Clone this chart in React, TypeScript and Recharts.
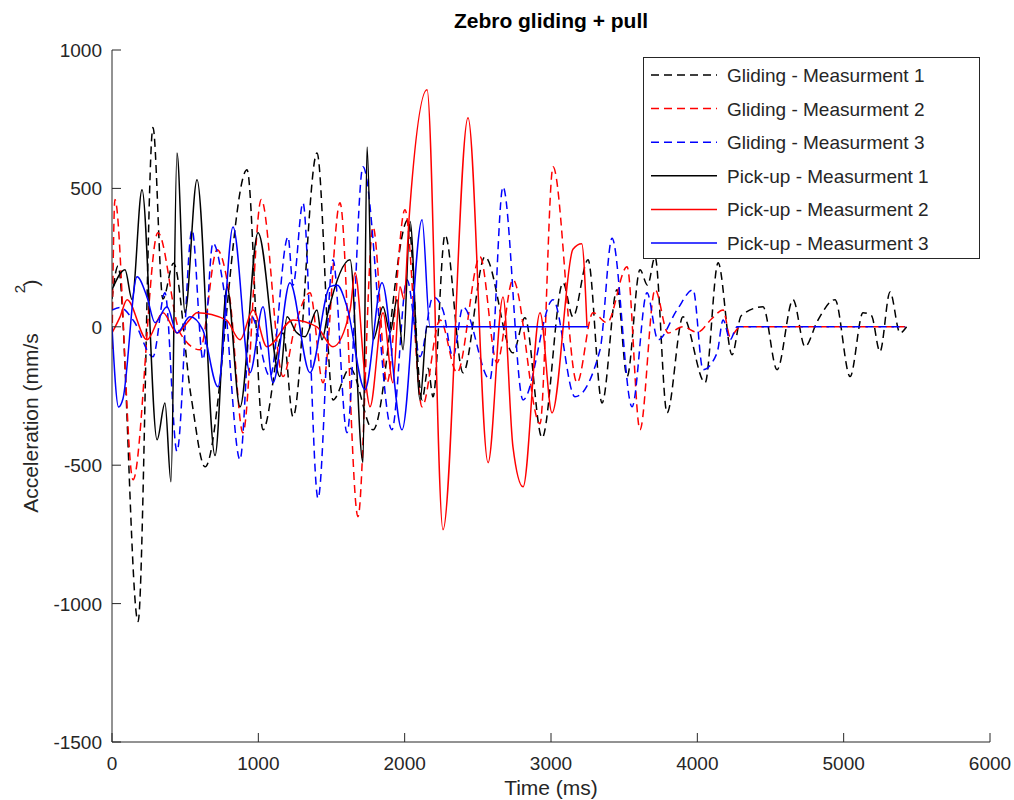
import { CartesianGrid, Customized, Legend, Line, LineChart, XAxis, YAxis } from "recharts";

type Pt = { t: number; v: number };

const toPts = (rows: number[][]): Pt[] => rows.map(([t, v]) => ({ t, v }));

// values (time in ms, acceleration in mm/s^2)
const glide1 = toPts([
  [0, 100], [41, 220], [178, -1065], [280, 720], [348, 100], [420, 230], [540, -250], [636, -506],
  [923, 567], [1032, -372], [1169, -22], [1237, -325], [1401, 628], [1510, -264], [1626, -150],
  [1784, -372], [2023, 387], [2119, -264], [2160, -150], [2194, -253], [2276, 332], [2399, -166],
  [2549, 253], [2740, -94], [2822, 33], [2939, -401], [3082, 159], [3150, 36], [3253, 242],
  [3349, -275], [3451, 134], [3520, -180], [3608, 206], [3660, 150], [3711, 253], [3793, -311],
  [3902, 36], [4053, -202], [4142, 231], [4237, -101], [4300, 40], [4449, 72], [4545, -155],
  [4654, 98], [4736, -72], [4820, 20], [4941, 98], [5044, -180], [5132, 51], [5190, 40],
  [5248, -90], [5317, 126], [5385, -22], [5430, 0]
]);

const glide2 = toPts([
  [0, -80], [20, 460], [144, -553], [314, 340], [465, -22], [601, -83], [718, 278], [806, 100],
  [895, -383], [1020, 460], [1169, -180], [1250, 0], [1353, 123], [1442, -202], [1558, 448],
  [1681, -686], [1784, 361], [1879, -202], [2002, 423], [2119, -289], [2242, 25], [2358, -166],
  [2515, 253], [2631, -130], [2740, 170], [2925, -350], [3014, 578], [3178, -202], [3287, 51],
  [3383, 15], [3520, 217], [3608, -372], [3711, 134], [3800, -22], [3902, 0], [4000, -20],
  [4100, 30], [4176, 61], [4224, -36], [4292, 0], [5420, 0]
]);

const glide3 = toPts([
  [0, 60], [55, 70], [150, 20], [280, -108], [362, 123], [444, -450], [547, 350], [622, -119],
  [690, 303], [760, 150], [875, -480], [950, 40], [1080, -180], [1203, 325], [1237, 150],
  [1305, 448], [1408, -620], [1510, 242], [1606, -383], [1715, 578], [1913, -372], [2016, 170],
  [2105, -108], [2194, 108], [2262, 60], [2330, -108], [2399, 72], [2583, -191], [2672, 506],
  [2809, -264], [3014, 98], [3164, -253], [3335, -83], [3417, 320], [3554, -289], [3656, 123],
  [3731, -47], [3861, 61], [3971, 134], [4039, -155], [4135, -94], [4176, 25], [4224, -47],
  [4272, 0], [5420, 0]
]);

const pick1 = toPts([
  [0, 134], [89, 206], [137, 98], [205, 495], [308, -408], [362, -275], [403, -560], [444, 628],
  [499, 51], [581, 531], [704, -465], [786, 145], [875, -289], [998, 340], [1148, -180],
  [1196, 36], [1260, -20], [1319, -36], [1401, 61], [1435, -47], [1476, 51], [1627, 242],
  [1715, -490], [1743, 650], [1784, -47], [1852, 72], [1900, -20], [1948, 98], [1989, -83],
  [2037, 380], [2105, -264], [2153, 0], [2200, 0]
]);

const pick2 = toPts([
  [0, -22], [55, 36], [103, 98], [239, -47], [349, 51], [444, -22], [530, 25], [581, 51],
  [780, 25], [875, -47], [964, 61], [1059, -72], [1237, 25], [1400, 0], [1510, -72], [1627, 61],
  [1661, 195], [1729, -180], [1763, -289], [1852, 51], [1920, -202], [1968, 145], [1995, 100],
  [2030, 390], [2153, 856], [2262, -733], [2433, 755], [2570, -491], [2672, 108], [2740, -434],
  [2809, -578], [2925, 51], [3007, -311], [3150, 280], [3210, 300], [3246, 0]
]);

const pick3 = toPts([
  [0, 0], [45, -290], [75, -260], [171, 181], [239, 108], [294, 15], [376, 72], [444, -22],
  [533, 36], [620, -10], [724, -217], [827, 361], [943, -166], [1032, 72], [1100, -202],
  [1216, 159], [1353, -166], [1490, 145], [1540, 150], [1606, 72], [1729, -227], [1845, 159],
  [1982, -372], [2119, 387], [2173, 0], [3253, 0]
]);

const xTicks = [0, 1000, 2000, 3000, 4000, 5000, 6000];
const yTicks = [-1500, -1000, -500, 0, 500, 1000];

const series = [
  { name: "Gliding - Measurment 1", data: glide1, color: "#000000", dash: "8 5" },
  { name: "Gliding - Measurment 2", data: glide2, color: "#ff0000", dash: "8 5" },
  { name: "Gliding - Measurment 3", data: glide3, color: "#0000ff", dash: "8 5" },
  { name: "Pick-up - Measurment 1", data: pick1, color: "#000000", dash: undefined },
  { name: "Pick-up - Measurment 2", data: pick2, color: "#ff0000", dash: undefined },
  { name: "Pick-up - Measurment 3", data: pick3, color: "#0000ff", dash: undefined }
];

const FONT = "'Liberation Sans', Arial, Helvetica, sans-serif";
const INK = "#262626";
const MARGIN = 10;

function XTick(props: any) {
  const { x, y, payload } = props;
  const axisY = y - MARGIN;
  return (
    <g>
      <line x1={x} x2={x} y1={axisY} y2={axisY - 9} stroke={INK} />
      <text x={x} y={axisY + 28} textAnchor="middle" fill={INK} fontSize={19} fontFamily={FONT}>
        {payload.value}
      </text>
    </g>
  );
}

function YTick(props: any) {
  const { x, y, payload } = props;
  const axisX = x + MARGIN;
  return (
    <g>
      <line x1={axisX} x2={axisX + 9} y1={y} y2={y} stroke={INK} />
      <text x={axisX - 10} y={y + 7} textAnchor="end" fill={INK} fontSize={19} fontFamily={FONT}>
        {payload.value}
      </text>
    </g>
  );
}

function Titles() {
  return (
    <g fontFamily={FONT} fill={INK}>
      <text x={551} y={28} textAnchor="middle" fontSize={21} fontWeight="bold" fill="#000">
        Zebro gliding + pull
      </text>
      <text x={551} y={795} textAnchor="middle" fontSize={21}>
        Time (ms)
      </text>
      <text x={38} y={423} textAnchor="middle" fontSize={21} transform="rotate(-90 38 423)">
        Acceleration (mm/s
      </text>
      <text x={25} y={289} textAnchor="middle" fontSize={15} transform="rotate(-90 25 289)">
        2
      </text>
      <text x={38} y={283} textAnchor="middle" fontSize={21} transform="rotate(-90 38 283)">
        )
      </text>
    </g>
  );
}

function LegendBox() {
  return (
    <svg width={337} height={202} style={{ display: "block" }}>
      <rect x={0.5} y={0.5} width={336} height={201} fill="#fff" stroke={INK} />
      {series.map((s, i) => {
        const cy = 18 + i * 33.6;
        return (
          <g key={s.name}>
            <line x1={8} x2={74} y1={cy} y2={cy} stroke={s.color} strokeWidth={1.5} strokeDasharray={s.dash} />
            <text x={84} y={cy + 7} fontSize={19} fontFamily={FONT} fill={INK}>
              {s.name}
            </text>
          </g>
        );
      })}
    </svg>
  );
}

export default function App() {
  return (
    <div style={{ position: "absolute", left: 0, top: 0, width: 1014, height: 800, background: "#fff" }}>
      <LineChart width={1014} height={800} margin={{ top: 50, right: 24, bottom: 8, left: 12 }}>
        <CartesianGrid stroke="none" fill="#fff" />
        <XAxis
          type="number"
          dataKey="t"
          domain={[0, 6000]}
          ticks={xTicks}
          height={50}
          tickSize={0}
          tickMargin={MARGIN}
          tickLine={false}
          axisLine={{ stroke: INK }}
          tick={<XTick />}
          allowDataOverflow
        />
        <YAxis
          type="number"
          domain={[-1500, 1000]}
          ticks={yTicks}
          width={100}
          tickSize={0}
          tickMargin={MARGIN}
          tickLine={false}
          axisLine={{ stroke: INK }}
          tick={<YTick />}
          allowDataOverflow
        />
        {series.map((s) => (
          <Line
            key={s.name}
            name={s.name}
            data={s.data}
            dataKey="v"
            type="monotone"
            stroke={s.color}
            strokeWidth={1.5}
            strokeDasharray={s.dash}
            dot={false}
            activeDot={false}
            isAnimationActive={false}
          />
        ))}
        <Legend
          layout="vertical"
          align="center"
          verticalAlign="middle"
          wrapperStyle={{ position: "absolute", left: 643, top: 57, width: 337, height: 202 }}
          content={() => <LegendBox />}
        />
        <Customized component={Titles} />
      </LineChart>
    </div>
  );
}
